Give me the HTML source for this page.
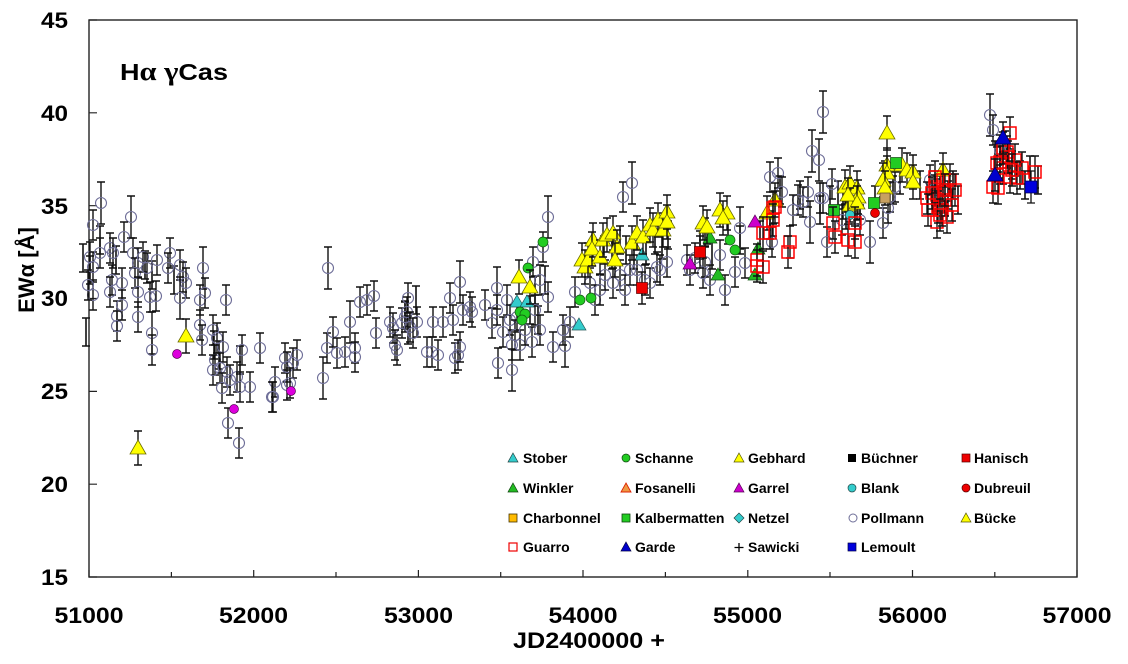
<!DOCTYPE html>
<html><head><meta charset="utf-8">
<style>
html,body{margin:0;padding:0;background:#fff;}
svg{display:block;font-family:"Liberation Sans",Arial,sans-serif;font-weight:bold;}
</style></head>
<body>
<svg width="1128" height="664" viewBox="0 0 1128 664" xmlns="http://www.w3.org/2000/svg">
<defs>
<g id="c"><path d="M0-15V15M-4-15H4M-4 15H4" stroke="#111" stroke-width="1.4" fill="none"/><circle r="5.5" fill="none" stroke="#6e6e98" stroke-width="1.1"/></g>
<g id="d"><path d="M0-21V21M-4-21H4M-4 21H4" stroke="#111" stroke-width="1.4" fill="none"/><circle r="5.5" fill="none" stroke="#6e6e98" stroke-width="1.1"/></g>
<g id="b"><path d="M0-14V14M-4-14H4M-4 14H4" stroke="#111" stroke-width="1.6" fill="none"/></g>
<g id="y"><path d="M0-17V17M-4-17H4M-4 17H4" stroke="#111" stroke-width="1.4" fill="none"/><path d="M0-8L8 6H-8Z" fill="#ffff00" stroke="#6b6b00" stroke-width="0.8"/></g>
<g id="r"><path d="M0-16V16M-4-16H4M-4 16H4" stroke="#111" stroke-width="1.4" fill="none"/><rect x="-6" y="-6" width="12" height="12" fill="none" stroke="#ff0000" stroke-width="1.5"/></g>
<g id="ct"><path d="M0-7L7 5H-7Z" fill="#33cccc" stroke="#225555" stroke-width="0.7"/></g>
<g id="gd"><circle r="5" fill="#22cc22" stroke="#115511" stroke-width="0.7"/></g>
<g id="gt"><path d="M0-7L7 5H-7Z" fill="#22bb22" stroke="#115511" stroke-width="0.7"/></g>
<g id="md"><circle r="4.5" fill="#dd00dd" stroke="#550055" stroke-width="0.7"/></g>
<g id="mt"><path d="M0-7L7 5H-7Z" fill="#cc00cc" stroke="#550055" stroke-width="0.7"/></g>
<g id="rs"><path d="M0-16V16M-4-16H4M-4 16H4" stroke="#111" stroke-width="1.4" fill="none"/><rect x="-5.5" y="-5.5" width="11" height="11" fill="#ee0000" stroke="#550000" stroke-width="0.7"/></g>
<g id="gs"><rect x="-5.5" y="-5.5" width="11" height="11" fill="#22cc22" stroke="#114411" stroke-width="0.7"/></g>
<g id="bt"><path d="M0-16V16M-4-16H4M-4 16H4" stroke="#111" stroke-width="1.4" fill="none"/><path d="M0-8L8 6H-8Z" fill="#0000cc" stroke="#000044" stroke-width="0.7"/></g>
</defs>

<!-- frame -->
<rect x="89" y="20" width="988" height="557" fill="none" stroke="#222" stroke-width="1.4"/>
<!-- x ticks -->
<path d="M89 577v-7M253.7 577v-7M418.4 577v-7M583 577v-7M747.8 577v-7M912.5 577v-7M1077 577v-7M171.4 577v-5M336 577v-5M500.7 577v-5M665.4 577v-5M830 577v-5M994.8 577v-5" stroke="#222" stroke-width="1.2"/>
<!-- y ticks -->
<path d="M89 577h8M89 484.2h8M89 391.4h8M89 298.5h8M89 205.7h8M89 112.8h8M89 20h8" stroke="#222" stroke-width="1.2"/>

<!-- y labels -->
<g font-size="22" text-anchor="end">
<text x="68" y="585" textLength="27" lengthAdjust="spacingAndGlyphs">15</text>
<text x="68" y="492" textLength="27" lengthAdjust="spacingAndGlyphs">20</text>
<text x="68" y="399" textLength="27" lengthAdjust="spacingAndGlyphs">25</text>
<text x="68" y="306" textLength="27" lengthAdjust="spacingAndGlyphs">30</text>
<text x="68" y="214" textLength="27" lengthAdjust="spacingAndGlyphs">35</text>
<text x="68" y="121" textLength="27" lengthAdjust="spacingAndGlyphs">40</text>
<text x="68" y="28" textLength="27" lengthAdjust="spacingAndGlyphs">45</text>
</g>
<!-- x labels -->
<g font-size="22">
<text x="54.5" y="623" textLength="69" lengthAdjust="spacingAndGlyphs">51000</text>
<text x="219" y="623" textLength="69" lengthAdjust="spacingAndGlyphs">52000</text>
<text x="384" y="623" textLength="69" lengthAdjust="spacingAndGlyphs">53000</text>
<text x="548.5" y="623" textLength="69" lengthAdjust="spacingAndGlyphs">54000</text>
<text x="713" y="623" textLength="69" lengthAdjust="spacingAndGlyphs">55000</text>
<text x="878" y="623" textLength="69" lengthAdjust="spacingAndGlyphs">56000</text>
<text x="1042.5" y="623" textLength="69" lengthAdjust="spacingAndGlyphs">57000</text>
</g>
<text x="513" y="648" font-size="22" textLength="152" lengthAdjust="spacingAndGlyphs">JD2400000 +</text>
<text transform="translate(34,270) rotate(-90)" font-size="22" text-anchor="middle">EWα [Å]</text>
<text x="120" y="80" font-size="23" textLength="108" lengthAdjust="spacingAndGlyphs">H<tspan font-family="Liberation Serif, serif" font-size="26">α</tspan> <tspan font-family="Liberation Serif, serif" font-size="26">γ</tspan>Cas</text>

<!-- bare error bars -->
<g>
<use href="#b" x="83" y="258"/><use href="#b" x="86" y="332"/><use href="#b" x="90" y="270"/><use href="#b" x="100" y="240"/><use href="#b" x="116" y="260"/><use href="#b" x="145" y="265"/><use href="#b" x="152" y="275"/><use href="#b" x="174" y="280"/><use href="#b" x="214" y="345"/><use href="#b" x="219" y="355"/><use href="#b" x="240" y="360"/>
<use href="#b" x="405" y="315"/><use href="#b" x="408" y="330"/><use href="#b" x="416" y="300"/><use href="#b" x="530" y="310"/><use href="#b" x="535" y="290"/><use href="#b" x="538" y="320"/><use href="#b" x="545" y="280"/>
<use href="#b" x="604" y="250"/><use href="#b" x="612" y="255"/><use href="#b" x="620" y="240"/><use href="#b" x="626" y="250"/><use href="#b" x="634" y="255"/><use href="#b" x="646" y="250"/><use href="#b" x="655" y="240"/><use href="#b" x="662" y="245"/><use href="#b" x="668" y="235"/>
<use href="#b" x="700" y="245"/><use href="#b" x="705" y="232"/><use href="#b" x="712" y="255"/><use href="#b" x="728" y="230"/><use href="#b" x="740" y="240"/><use href="#b" x="760" y="235"/><use href="#b" x="770" y="225"/><use href="#b" x="780" y="190"/><use href="#b" x="800" y="195"/>
<use href="#b" x="820" y="210"/><use href="#b" x="830" y="200"/><use href="#b" x="843" y="205"/><use href="#b" x="850" y="195"/><use href="#b" x="855" y="210"/><use href="#b" x="860" y="205"/><use href="#b" x="875" y="200"/><use href="#b" x="885" y="175"/><use href="#b" x="893" y="190"/><use href="#b" x="900" y="180"/><use href="#b" x="920" y="185"/><use href="#b" x="933" y="200"/><use href="#b" x="948" y="195"/><use href="#b" x="958" y="200"/>
<use href="#b" x="995" y="155"/><use href="#b" x="1000" y="170"/><use href="#b" x="1005" y="145"/><use href="#b" x="1012" y="165"/><use href="#b" x="1020" y="175"/><use href="#b" x="1025" y="185"/><use href="#b" x="1038" y="180"/>
<use href="#b" x="838" y="195"/><use href="#b" x="846" y="215"/><use href="#b" x="940" y="190"/><use href="#b" x="953" y="185"/><use href="#b" x="1030" y="170"/>
</g>

<!-- Pollmann circles -->
<g>
<use href="#d" x="101" y="203"/><use href="#c" x="93" y="225"/><use href="#d" x="131" y="217"/><use href="#c" x="124" y="237"/><use href="#c" x="90" y="257"/><use href="#c" x="93" y="267"/><use href="#c" x="100" y="253"/><use href="#c" x="110" y="248"/><use href="#c" x="113" y="253"/><use href="#c" x="112" y="280"/><use href="#c" x="110" y="292"/><use href="#c" x="117" y="316"/><use href="#c" x="117" y="326"/><use href="#c" x="122" y="283"/><use href="#c" x="122" y="305"/><use href="#c" x="93" y="295"/><use href="#c" x="88" y="285"/>
<use href="#c" x="133" y="253"/><use href="#c" x="138" y="263"/><use href="#c" x="135" y="273"/><use href="#c" x="138" y="292"/><use href="#c" x="138" y="317"/><use href="#c" x="143" y="257"/><use href="#c" x="147" y="268"/><use href="#c" x="150" y="297"/><use href="#c" x="157" y="260"/><use href="#c" x="156" y="296"/><use href="#d" x="152" y="333"/><use href="#c" x="152" y="350"/>
<use href="#c" x="170" y="253"/><use href="#c" x="168" y="268"/><use href="#c" x="180" y="265"/><use href="#c" x="183" y="277"/><use href="#c" x="186" y="283"/><use href="#d" x="180" y="298"/><use href="#d" x="203" y="268"/><use href="#c" x="200" y="300"/><use href="#c" x="205" y="293"/><use href="#c" x="200" y="325"/><use href="#c" x="202" y="340"/><use href="#c" x="213" y="330"/><use href="#c" x="217" y="338"/><use href="#c" x="226" y="300"/><use href="#c" x="223" y="347"/><use href="#c" x="215" y="360"/><use href="#c" x="213" y="370"/><use href="#c" x="220" y="368"/><use href="#c" x="227" y="372"/><use href="#c" x="222" y="388"/><use href="#c" x="230" y="380"/><use href="#c" x="237" y="377"/><use href="#c" x="242" y="350"/><use href="#c" x="240" y="387"/><use href="#c" x="250" y="387"/><use href="#c" x="228" y="423"/><use href="#c" x="239" y="443"/>
<use href="#c" x="260" y="348"/><use href="#c" x="275" y="382"/><use href="#c" x="272" y="397"/><use href="#c" x="285" y="358"/><use href="#c" x="287" y="385"/><use href="#c" x="297" y="355"/><use href="#c" x="293" y="363"/><use href="#c" x="287" y="367"/><use href="#c" x="290" y="383"/><use href="#c" x="273" y="397"/>
<use href="#d" x="323" y="378"/><use href="#c" x="327" y="348"/><use href="#d" x="328" y="268"/><use href="#c" x="333" y="332"/><use href="#c" x="337" y="353"/><use href="#c" x="345" y="352"/><use href="#d" x="350" y="322"/><use href="#c" x="355" y="348"/><use href="#c" x="355" y="357"/><use href="#c" x="360" y="302"/><use href="#c" x="367" y="300"/><use href="#c" x="374" y="296"/><use href="#c" x="376" y="333"/>
<use href="#c" x="390" y="322"/><use href="#c" x="393" y="328"/><use href="#c" x="395" y="345"/><use href="#c" x="397" y="350"/><use href="#c" x="402" y="323"/><use href="#c" x="405" y="317"/><use href="#c" x="408" y="298"/><use href="#c" x="407" y="312"/><use href="#c" x="410" y="327"/><use href="#c" x="417" y="322"/><use href="#c" x="413" y="333"/><use href="#c" x="427" y="352"/><use href="#c" x="433" y="322"/><use href="#c" x="432" y="352"/><use href="#c" x="438" y="355"/><use href="#c" x="443" y="322"/><use href="#c" x="450" y="298"/><use href="#c" x="453" y="320"/><use href="#c" x="455" y="358"/><use href="#d" x="460" y="282"/><use href="#c" x="460" y="347"/><use href="#c" x="458" y="355"/><use href="#c" x="463" y="310"/><use href="#c" x="470" y="307"/><use href="#c" x="472" y="312"/>
<use href="#c" x="485" y="305"/><use href="#c" x="492" y="323"/><use href="#d" x="497" y="288"/><use href="#c" x="497" y="310"/><use href="#c" x="498" y="363"/><use href="#c" x="503" y="332"/><use href="#c" x="512" y="345"/><use href="#d" x="512" y="370"/><use href="#c" x="517" y="317"/><use href="#c" x="532" y="342"/><use href="#c" x="533" y="262"/><use href="#c" x="543" y="247"/><use href="#c" x="540" y="280"/><use href="#c" x="548" y="297"/><use href="#d" x="548" y="217"/>
<use href="#c" x="507" y="300"/><use href="#c" x="510" y="320"/><use href="#c" x="515" y="335"/><use href="#c" x="520" y="345"/><use href="#c" x="525" y="330"/><use href="#c" x="535" y="310"/><use href="#c" x="540" y="330"/><use href="#c" x="553" y="347"/>
<use href="#d" x="565" y="346"/><use href="#c" x="570" y="322"/><use href="#c" x="575" y="292"/><use href="#c" x="563" y="330"/><use href="#c" x="590" y="283"/><use href="#c" x="595" y="300"/><use href="#c" x="600" y="290"/><use href="#c" x="605" y="275"/><use href="#c" x="613" y="283"/><use href="#c" x="620" y="275"/><use href="#c" x="625" y="290"/><use href="#c" x="630" y="270"/><use href="#c" x="637" y="270"/><use href="#c" x="645" y="280"/><use href="#c" x="650" y="283"/><use href="#c" x="657" y="267"/><use href="#c" x="660" y="270"/><use href="#c" x="667" y="262"/>
<use href="#c" x="623" y="197"/><use href="#d" x="632" y="183"/><use href="#c" x="687" y="260"/><use href="#c" x="703" y="273"/><use href="#c" x="690" y="270"/><use href="#c" x="695" y="258"/><use href="#c" x="705" y="262"/><use href="#c" x="710" y="280"/><use href="#d" x="740" y="228"/><use href="#c" x="735" y="272"/><use href="#c" x="745" y="263"/><use href="#c" x="720" y="255"/><use href="#c" x="725" y="290"/>
<use href="#c" x="770" y="177"/><use href="#c" x="778" y="173"/><use href="#c" x="782" y="192"/><use href="#c" x="772" y="242"/>
<use href="#d" x="823" y="112"/><use href="#d" x="812" y="151"/><use href="#d" x="819" y="160"/><use href="#c" x="832" y="184"/><use href="#c" x="808" y="192"/><use href="#c" x="803" y="202"/><use href="#c" x="820" y="198"/><use href="#c" x="823" y="198"/><use href="#d" x="810" y="222"/><use href="#c" x="827" y="242"/><use href="#c" x="842" y="220"/><use href="#c" x="860" y="220"/><use href="#d" x="870" y="242"/><use href="#c" x="883" y="223"/><use href="#c" x="895" y="187"/><use href="#c" x="890" y="197"/><use href="#c" x="888" y="208"/><use href="#c" x="798" y="200"/><use href="#c" x="793" y="210"/>
<use href="#c" x="930" y="180"/><use href="#c" x="935" y="190"/><use href="#d" x="990" y="115"/><use href="#c" x="993" y="130"/><use href="#c" x="1000" y="150"/>
</g>

<!-- other small markers -->
<g>
<use href="#md" x="177" y="354"/><use href="#md" x="234" y="409"/><use href="#md" x="291" y="391"/>
<use href="#ct" x="517" y="302"/><use href="#ct" x="527" y="302"/><use href="#ct" x="579" y="325"/><use href="#ct" x="642" y="255"/>
<use href="#gd" x="528" y="268"/><use href="#gd" x="543" y="242"/><use href="#gd" x="520" y="312"/><use href="#gd" x="525" y="314"/><use href="#gd" x="522" y="320"/><use href="#gd" x="580" y="300"/><use href="#gd" x="591" y="298"/><use href="#gd" x="730" y="240"/><use href="#gd" x="735" y="250"/>
<use href="#gt" x="710" y="238"/><use href="#gt" x="718" y="275"/><use href="#gt" x="755" y="275"/><use href="#gt" x="758" y="249"/>
<use href="#mt" x="690" y="264"/><use href="#mt" x="755" y="222"/>
<use href="#rs" x="642" y="288"/><use href="#rs" x="700" y="252"/>
</g>

<!-- yellow triangles -->
<g>
<use href="#y" x="138" y="448"/><use href="#y" x="186" y="336"/><use href="#y" x="519" y="277"/><use href="#y" x="530" y="287"/>
<use href="#y" x="582" y="260"/><use href="#y" x="585" y="267"/><use href="#y" x="588" y="260"/><use href="#y" x="593" y="240"/><use href="#y" x="592" y="249"/><use href="#y" x="600" y="257"/><use href="#y" x="603" y="240"/><use href="#y" x="607" y="235"/><use href="#y" x="613" y="233"/><use href="#y" x="617" y="247"/><use href="#y" x="615" y="260"/><use href="#y" x="632" y="243"/><use href="#y" x="637" y="233"/><use href="#y" x="643" y="237"/><use href="#y" x="650" y="225"/><use href="#y" x="653" y="230"/><use href="#y" x="658" y="220"/><use href="#y" x="663" y="230"/><use href="#y" x="667" y="212"/><use href="#y" x="667" y="222"/>
<use href="#y" x="703" y="223"/><use href="#y" x="707" y="227"/><use href="#y" x="720" y="210"/><use href="#y" x="727" y="213"/><use href="#y" x="723" y="218"/>
<use href="#y" x="767" y="213"/><use href="#y" x="775" y="200"/>
<use href="#y" x="845" y="187"/><use href="#y" x="850" y="183"/><use href="#y" x="857" y="188"/><use href="#y" x="858" y="197"/><use href="#y" x="850" y="205"/><use href="#y" x="848" y="195"/><use href="#y" x="857" y="203"/>
<use href="#y" x="887" y="133"/><use href="#y" x="887" y="165"/><use href="#y" x="887" y="173"/><use href="#y" x="883" y="180"/><use href="#y" x="885" y="188"/><use href="#y" x="902" y="165"/><use href="#y" x="907" y="170"/><use href="#y" x="913" y="172"/><use href="#y" x="913" y="182"/><use href="#y" x="943" y="170"/>
</g>

<!-- late special markers -->
<g>
<use href="#gs" x="834" y="210"/><use href="#gs" x="874" y="203"/><use href="#gs" x="896" y="163"/>
<circle cx="850" cy="215" r="4.5" fill="#33cccc" stroke="#225555" stroke-width="0.7"/>
<circle cx="875" cy="213" r="4.5" fill="#ee0000" stroke="#550000" stroke-width="0.7"/>
<rect x="880" y="193" width="10" height="10" fill="#c8a060" stroke="#554422" stroke-width="0.7"/>
</g>

<!-- Guarro open red squares -->
<g>
<use href="#r" x="775" y="207"/><use href="#r" x="773" y="220"/><use href="#r" x="790" y="242"/><use href="#r" x="788" y="252"/><use href="#r" x="770" y="233"/><use href="#r" x="757" y="260"/><use href="#r" x="757" y="266"/><use href="#r" x="763" y="233"/><use href="#r" x="763" y="267"/><use href="#r" x="773" y="208"/>
<use href="#r" x="833" y="223"/><use href="#r" x="835" y="237"/><use href="#r" x="848" y="240"/><use href="#r" x="855" y="242"/><use href="#r" x="855" y="223"/>
<use href="#r" x="927" y="198"/><use href="#r" x="935" y="187"/><use href="#r" x="937" y="195"/><use href="#r" x="943" y="180"/><use href="#r" x="938" y="207"/><use href="#r" x="950" y="180"/><use href="#r" x="955" y="190"/><use href="#r" x="937" y="222"/><use href="#r" x="947" y="217"/><use href="#r" x="942" y="210"/><use href="#r" x="935" y="177"/><use href="#r" x="932" y="193"/><use href="#r" x="945" y="200"/><use href="#r" x="952" y="205"/><use href="#r" x="928" y="210"/><use href="#r" x="940" y="215"/><use href="#r" x="945" y="190"/>
<use href="#r" x="1010" y="133"/><use href="#r" x="1007" y="152"/><use href="#r" x="1000" y="162"/><use href="#r" x="1003" y="168"/><use href="#r" x="1015" y="160"/><use href="#r" x="1022" y="168"/><use href="#r" x="1035" y="172"/><use href="#r" x="993" y="187"/><use href="#r" x="998" y="188"/><use href="#r" x="1010" y="177"/><use href="#r" x="1017" y="178"/><use href="#r" x="997" y="163"/><use href="#r" x="1008" y="157"/><use href="#r" x="1003" y="148"/><use href="#r" x="1012" y="170"/>
</g>
<g>
<use href="#bt" x="1003" y="138"/><use href="#bt" x="995" y="175"/>
<path d="M1031 171V203M1027 171H1035M1027 203H1035" stroke="#111" stroke-width="1.3"/>
<rect x="1025" y="181" width="12" height="12" fill="#0000dd" stroke="#000044" stroke-width="0.7"/>
</g>

<!-- legend -->
<g font-size="14">
<path d="M513 453L518 462H508Z" fill="#33cccc" stroke="#224444" stroke-width="0.7"/><text x="523" y="463">Stober</text>
<circle cx="626" cy="458" r="4" fill="#22cc22" stroke="#114411" stroke-width="0.7"/><text x="635" y="463">Schanne</text>
<path d="M739 453L744 462H734Z" fill="#ffff00" stroke="#555500" stroke-width="0.7"/><text x="748" y="463">Gebhard</text>
<rect x="848" y="454" width="8" height="8" fill="#000"/><text x="861" y="463">Büchner</text>
<rect x="962" y="454" width="8" height="8" fill="#ee0000" stroke="#550000" stroke-width="0.7"/><text x="974" y="463">Hanisch</text>
<path d="M513 483L518 492H508Z" fill="#22bb22" stroke="#114411" stroke-width="0.7"/><text x="523" y="493">Winkler</text>
<path d="M626 483L631 492H621Z" fill="#ee9944" stroke="#dd2200" stroke-width="0.9"/><text x="635" y="493">Fosanelli</text>
<path d="M739 483L744 492H734Z" fill="#cc00cc" stroke="#550055" stroke-width="0.7"/><text x="748" y="493">Garrel</text>
<circle cx="852" cy="488" r="4" fill="#33cccc" stroke="#224444" stroke-width="0.7"/><text x="861" y="493">Blank</text>
<circle cx="966" cy="488" r="4" fill="#ee0000" stroke="#550000" stroke-width="0.7"/><text x="974" y="493">Dubreuil</text>
<rect x="509" y="514" width="8" height="8" fill="#ffbb00" stroke="#443300" stroke-width="0.8"/><text x="523" y="523">Charbonnel</text>
<rect x="622" y="514" width="8" height="8" fill="#22cc22" stroke="#114411" stroke-width="0.8"/><text x="635" y="523">Kalbermatten</text>
<path d="M739 513L744 518L739 523L734 518Z" fill="#33cccc" stroke="#224444" stroke-width="0.7"/><text x="748" y="523">Netzel</text>
<circle cx="853" cy="518" r="4" fill="none" stroke="#6e6e98" stroke-width="1"/><text x="861" y="523">Pollmann</text>
<path d="M966 513L971 522H961Z" fill="#ffff00" stroke="#555500" stroke-width="0.7"/><text x="974" y="523">Bücke</text>
<rect x="509" y="543" width="8" height="8" fill="none" stroke="#ee0000" stroke-width="1.2"/><text x="523" y="552">Guarro</text>
<path d="M626 542L631 551H621Z" fill="#0000cc" stroke="#000044" stroke-width="0.7"/><text x="635" y="552">Garde</text>
<path d="M739 543V552M734.5 547.5H743.5" stroke="#000" stroke-width="1.3"/><text x="748" y="552">Sawicki</text>
<rect x="848" y="543" width="8" height="8" fill="#0000dd" stroke="#000044" stroke-width="0.7"/><text x="861" y="552">Lemoult</text>
</g>
</svg>
</body></html>
